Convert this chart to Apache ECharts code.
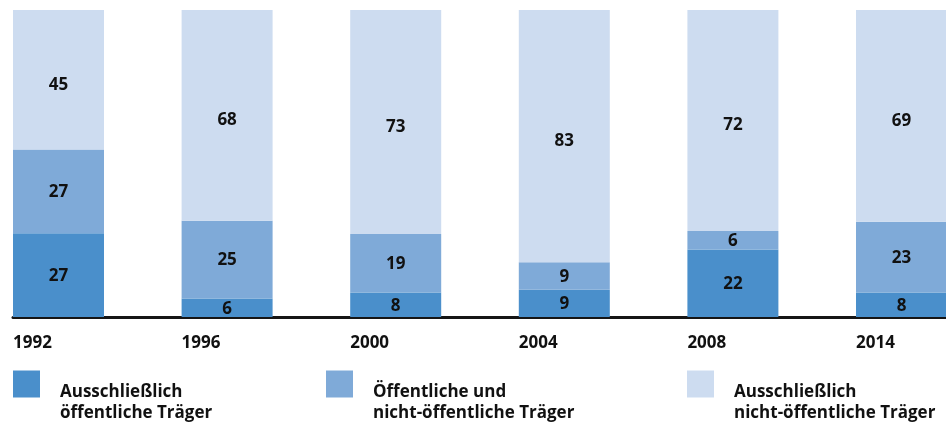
<!DOCTYPE html>
<html>
<head>
<meta charset="utf-8">
<script src="https://cdn.jsdelivr.net/npm/echarts@6/dist/echarts.min.js"></script>
<style>
  html, body { margin: 0; padding: 0; background: #fff; }
  #main { width: 946px; height: 425px; }
</style>
</head>
<body>
<div id="main"></div>
<script>
var years = ["1992", "1996", "2000", "2004", "2008", "2014"];
var nurOeffentlich = [27, 6, 8, 9, 22, 8];
var gemischt = [27, 25, 19, 9, 6, 23];
var nurNichtOeffentlich = [45, 68, 73, 83, 72, 69];

var names = ["Ausschließlich\nöffentliche Träger", "Öffentliche und\nnicht-öffentliche Träger", "Ausschließlich\nnicht-öffentliche Träger"];
var colors = ["#4a8fcb", "#7faad8", "#cddcf0"];
var font = "'Open Sans', 'Noto Sans', sans-serif";

var chart = echarts.init(document.getElementById("main"));

// jede Säule auf 100 % skaliert, Beschriftung zeigt den Originalwert
var totals = years.map(function (y, i) {
    return nurOeffentlich[i] + gemischt[i] + nurNichtOeffentlich[i];
});
function toPercent(arr) {
    return arr.map(function (v, i) { return v / totals[i] * 100; });
}

function makeSeries(name, raw, color, dy) {
    return {
        name: name,
        type: 'bar',
        stack: 'traeger',
        barWidth: 91,
        clip: false,
        data: toPercent(raw),
        itemStyle: { color: color },
        label: {
            show: true,
            position: 'inside',
            offset: [0, dy],
            color: '#111',
            fontFamily: font,
            fontWeight: 'bold',
            fontSize: 17,
            formatter: function (p) { return raw[p.dataIndex]; }
        }
    };
}

var legendText = {
    fontFamily: font,
    fontWeight: 'bold',
    fontSize: 17,
    lineHeight: 21,
    color: '#111',
    padding: [0, 0, 0, 15]
};

function makeLegend(i, left) {
    return {
        data: [names[i]],
        left: left,
        top: 361,
        padding: 0,
        itemWidth: 27,
        itemHeight: 27,
        icon: 'rect',
        selectedMode: false,
        formatter: function (n) {
            var lines = n.split('\n');
            return '{s| }\n{t|' + lines[0] + '}\n{t|' + lines[1] + '}';
        },
        textStyle: {
            rich: {
                s: { fontSize: 4, lineHeight: 37 },
                t: legendText
            }
        }
    };
}

var option = {
    animation: false,
    grid: [
        { left: 58.5, right: 44.5, top: 10, bottom: 108 },
        { left: 13, right: 0, top: 10, bottom: 107.5 }
    ],
    xAxis: [
        {
            type: 'category',
            data: years,
            gridIndex: 0,
            boundaryGap: false,
            axisLine: { show: false },
            axisTick: { show: false },
            axisLabel: {
                interval: 0,
                margin: 18,
                formatter: function (v) { return '{y|' + v + '}'; },
                rich: {
                    y: {
                        width: 91,
                        align: 'left',
                        fontFamily: font,
                        fontWeight: 'bold',
                        fontSize: 17,
                        color: '#111'
                    }
                }
            }
        },
        {
            type: 'value',
            gridIndex: 1,
            min: 0,
            max: 1,
            axisLine: { show: true, onZero: false, lineStyle: { color: '#151515', width: 3 } },
            axisTick: { show: false },
            axisLabel: { show: false },
            splitLine: { show: false }
        }
    ],
    yAxis: [
        { type: 'value', gridIndex: 0, min: 0, max: 100, show: false },
        { type: 'value', gridIndex: 1, min: 0, max: 1, show: false }
    ],
    legend: [makeLegend(0, 13), makeLegend(1, 326), makeLegend(2, 687)],
    series: [
        makeSeries(names[0], nurOeffentlich, colors[0], 1),
        makeSeries(names[1], gemischt, colors[1], 1),
        makeSeries(names[2], nurNichtOeffentlich, colors[2], 5)
    ]
};

chart.setOption(option);
</script>
</body>
</html>
